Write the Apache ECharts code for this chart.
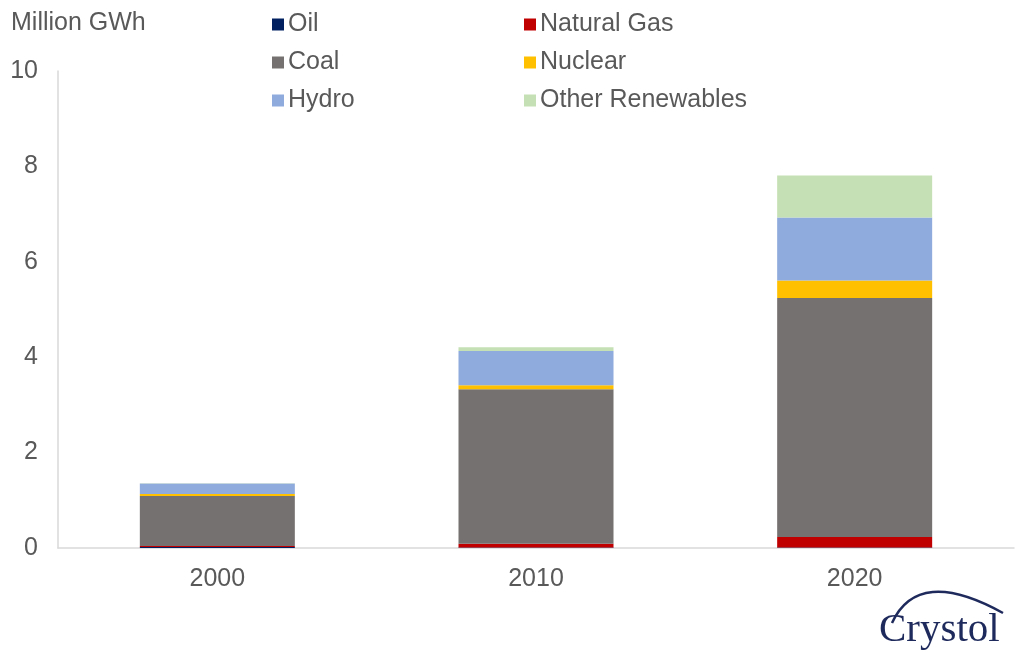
<!DOCTYPE html>
<html>
<head>
<meta charset="utf-8">
<script src="https://cdn.jsdelivr.net/npm/echarts@6/dist/echarts.min.js"></script>
<style>html,body{margin:0;padding:0;background:#fff;}#c{width:1024px;height:653px;}</style>
</head>
<body>
<div id="c"></div>
<script>
const categories = ['2000', '2010', '2020'];
const oil = [0.02, 0.01, 0.01];
const naturalGas = [0.02, 0.08, 0.22];
const coal = [1.05, 3.24, 5.01];
const nuclear = [0.04, 0.08, 0.37];
const hydro = [0.22, 0.72, 1.32];
const otherRenewables = [0.01, 0.08, 0.88];
const yTicks = [0, 2, 4, 6, 8, 10];

const font = 'Liberation Sans, Arial, sans-serif';
const txt = '#595959';
const fs = 25;
const seriesDefs = [
  ['Oil', oil, '#002060'],
  ['Natural Gas', naturalGas, '#c00000'],
  ['Coal', coal, '#767171'],
  ['Nuclear', nuclear, '#ffc000'],
  ['Hydro', hydro, '#8faadc'],
  ['Other Renewables', otherRenewables, '#c5e0b4']
];
const legendBase = {
  orient: 'vertical', itemWidth: 12, itemHeight: 12, itemGap: 13, icon: 'rect',
  textStyle: {color: txt, fontSize: fs, fontFamily: font, padding: [0, 0, 0, -1]}
};
const chart = echarts.init(document.getElementById('c'));
chart.setOption({
  animation: false,
  backgroundColor: '#fff',
  grid: {left: 58, right: 10, top: 71, bottom: 105},
  legend: [
    Object.assign({left: 267, top: 7, data: ['Oil', 'Coal', 'Hydro']}, legendBase),
    Object.assign({left: 519, top: 7, data: ['Natural Gas', 'Nuclear', 'Other Renewables']}, legendBase)
  ],
  graphic: [
    {type: 'text', left: 11, top: 11, style: {text: 'Million GWh', fill: txt, font: fs + 'px ' + font}},
    {type: 'bezierCurve', shape: {x1: 892, y1: 623, cpx1: 918, cpy1: 566, x2: 1003, y2: 613}, style: {stroke: '#1f2a5c', lineWidth: 2.5, fill: null}},
    {type: 'text', left: 879, top: 610, style: {text: 'Crystol', fill: '#1f2a5c', font: '41px Liberation Serif, DejaVu Serif, serif'}}
  ],
  xAxis: {
    type: 'category', data: categories,
    axisLine: {lineStyle: {color: '#d9d9d9', width: 1.5}},
    axisTick: {show: false},
    axisLabel: {color: txt, fontSize: fs, fontFamily: font, margin: 19}
  },
  yAxis: {
    type: 'value', min: 0, max: 10, interval: 2,
    axisLine: {show: true, lineStyle: {color: '#d9d9d9', width: 1.5}},
    axisTick: {show: false},
    splitLine: {show: false},
    axisLabel: {color: txt, fontSize: fs, fontFamily: font, margin: 20,
      formatter: v => yTicks.includes(v) ? String(v) : ''}
  },
  series: seriesDefs.map(([name, data, color]) => ({
    name, type: 'bar', stack: 'total', data, barWidth: 155,
    itemStyle: {color}
  }))
});
</script>
</body>
</html>
